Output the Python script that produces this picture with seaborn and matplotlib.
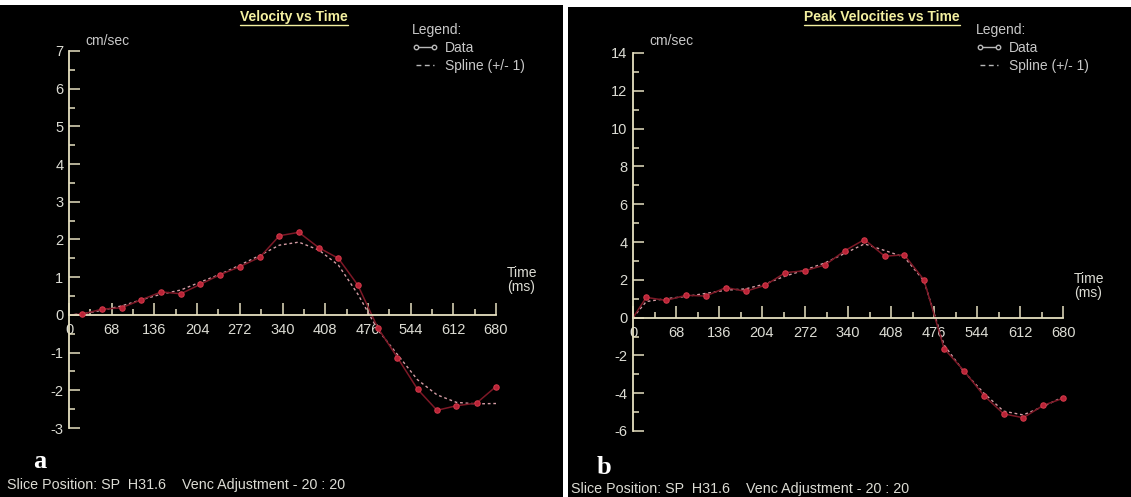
import matplotlib
matplotlib.use("Agg")
import matplotlib.pyplot as plt
import seaborn as sns
from matplotlib.lines import Line2D
from matplotlib.patches import Rectangle
from matplotlib.ticker import MultipleLocator

# sample times (ms), first entry is the origin the trace starts from
TIME_MS = [0, 21, 52, 84, 115, 147, 178, 209, 241, 272, 304, 335, 366,
           398, 429, 460, 492, 523, 555, 586, 617, 649, 680]

# panel a: mean velocity (cm/sec)
VEL_DATA = [0, 0.02, 0.15, 0.19, 0.40, 0.61, 0.56, 0.81, 1.07, 1.28, 1.53, 2.10, 2.19,
            1.78, 1.50, 0.79, -0.35, -1.13, -1.97, -2.53, -2.41, -2.34, -1.90]
VEL_SPLINE = [0, 0.03, 0.12, 0.24, 0.40, 0.55, 0.66, 0.87, 1.08, 1.32, 1.58, 1.85, 1.93,
              1.72, 1.32, 0.55, -0.40, -1.05, -1.72, -2.12, -2.32, -2.36, -2.35]

# panel b: peak velocity (cm/sec)
PEAK_DATA = [0, 1.07, 0.91, 1.18, 1.14, 1.59, 1.39, 1.71, 2.38, 2.48, 2.79, 3.54, 4.13,
             3.25, 3.32, 2.00, -1.64, -2.80, -4.13, -5.09, -5.30, -4.64, -4.27]
PEAK_SPLINE = [0, 0.85, 1.00, 1.12, 1.28, 1.45, 1.52, 1.78, 2.20, 2.52, 2.90, 3.40, 3.90,
               3.55, 3.20, 1.95, -1.45, -2.85, -4.00, -4.95, -5.15, -4.70, -4.20]

X_TICKS = [0, 68, 136, 204, 272, 340, 408, 476, 544, 612, 680]
FOOTER = "Slice Position: SP  H31.6    Venc Adjustment - 20 : 20"

sns.set_theme(style="dark")
plt.rcParams["font.family"] = ["Liberation Sans", "DejaVu Sans"]
plt.rcParams["axes.unicode_minus"] = False

AXC = "#e6e0c0"      # axis cream
TXT = "#dcdcd4"      # tick labels
LEG = "#c8c8c8"
TITLE_C = "#f4f0a0"
LINE_C = "#7c1826"
DOT_C = "#b82236"
SPL_C = "#d49ca4"

W, H = 1131, 497


def fx(px):
    return px / W


def fy(py):
    return 1 - py / H


fig = plt.figure(figsize=(W / 100, H / 100), dpi=100, facecolor="white")
fig.add_artist(Rectangle((0, 0), fx(563), fy(5), transform=fig.transFigure,
                         facecolor="black", edgecolor="none", zorder=0))
fig.add_artist(Rectangle((fx(568), 0), 1 - fx(568), fy(7), transform=fig.transFigure,
                         facecolor="black", edgecolor="none", zorder=0))


def draw_panel(x0, x1, ytop, ybot, ylim, ystep, data, spline, title, title_x,
               off, letter):
    ax = fig.add_axes([fx(x0), fy(ybot), fx(x1) - fx(x0), fy(ytop) - fy(ybot)])
    ax.set_facecolor("none")
    ax.grid(False)

    sns.lineplot(x=TIME_MS, y=spline, ax=ax, color=SPL_C, lw=1,
                 linestyle=(0, (2, 2)), sort=False, estimator=None)
    sns.lineplot(x=TIME_MS, y=data, ax=ax, color=LINE_C, lw=1.1,
                 sort=False, estimator=None)
    sns.scatterplot(x=TIME_MS[1:], y=data[1:], ax=ax, color=DOT_C, s=15,
                    edgecolor="#d03848", linewidth=0.8, zorder=5)
    for a in ax.lines + ax.collections:
        a.set_clip_on(False)

    ax.set_xlim(0, 680)
    ax.set_ylim(*ylim)
    ax.set_xlabel("")
    ax.set_ylabel("")
    ax.spines["top"].set_visible(False)
    ax.spines["right"].set_visible(False)
    ax.spines["bottom"].set_position(("data", 0))
    for s in ("left", "bottom"):
        ax.spines[s].set_color(AXC)
        ax.spines[s].set_linewidth(1.3)
        ax.spines[s].set_visible(True)

    ax.set_xticks(X_TICKS)
    ax.xaxis.set_minor_locator(MultipleLocator(34))
    ax.yaxis.set_major_locator(MultipleLocator(ystep))
    ax.yaxis.set_minor_locator(MultipleLocator(ystep / 2))
    ax.tick_params(axis="x", which="major", direction="in", length=8.6, width=1.1,
                   color=AXC, labelcolor=TXT, labelsize=10.5, pad=6, bottom=True)
    ax.tick_params(axis="x", which="minor", direction="in", length=4.3, width=1.1,
                   color=AXC, bottom=True)
    ax.tick_params(axis="y", which="major", direction="in", length=8, width=1.1,
                   color=AXC, labelcolor=TXT, labelsize=10.5, pad=4, left=True)
    ax.tick_params(axis="y", which="minor", direction="in", length=4, width=1.1,
                   color=AXC, left=True)

    t = fig.text(fx(title_x), fy(17), title, ha="center", va="center",
                 fontsize=10, fontweight="bold", color=TITLE_C)
    fig.text(fx(x0 + 16), fy(41), "cm/sec", ha="left", va="center",
             fontsize=10, color=LEG)
    fig.text(fx(x1 + 11), fy(273 + off), "Time", ha="left", va="center",
             fontsize=10, color=TXT)
    fig.text(fx(x1 + 11), fy(287 + off), "(ms)", ha="left", va="center",
             fontsize=10, color=TXT)

    handles = [Line2D([], [], color="#b8b8b8", lw=1, marker="o", markersize=3.2,
                      markerfacecolor="black", markeredgecolor="#b8b8b8"),
               Line2D([], [], color="#b8b8b8", lw=1, linestyle=(0, (3.5, 2.5)))]
    leg = ax.legend(handles, ["Data", "Spline (+/- 1)"], title="Legend:",
                    alignment="left", loc="upper left",
                    bbox_to_anchor=(fx(x0 + 343), fy(23)),
                    bbox_transform=fig.transFigure, frameon=False, fontsize=10,
                    title_fontsize=10, labelcolor=LEG, numpoints=2,
                    handlelength=1.9, handletextpad=0.5, labelspacing=0.3,
                    borderpad=0, borderaxespad=0)
    leg.get_title().set_color(LEG)

    fig.text(fx(x0 - 29), fy(461 + off), letter, ha="center", va="center",
             fontsize=19, fontweight="bold", color="white",
             family=["Liberation Serif", "DejaVu Serif"])
    return t


t1 = draw_panel(69, 496, 51, 428, (-3, 7), 1, VEL_DATA, VEL_SPLINE,
                "Velocity vs Time", 294, 0, "a")
t2 = draw_panel(633, 1063, 53, 431, (-6, 14), 2, PEAK_DATA, PEAK_SPLINE,
                "Peak Velocities vs Time", 882, 6, "b")

fig.text(fx(7), fy(485), FOOTER, ha="left", va="center", fontsize=10.3, color=TXT)
fig.text(fx(571), fy(489), FOOTER, ha="left", va="center", fontsize=10.3, color=TXT)

# underline the titles
fig.canvas.draw()
renderer = fig.canvas.get_renderer()
for t in (t1, t2):
    bb = t.get_window_extent(renderer)
    fig.add_artist(Line2D([bb.x0 / W, bb.x1 / W], [(bb.y0 - 1) / H, (bb.y0 - 1) / H],
                          transform=fig.transFigure, color=TITLE_C, lw=1))

fig.savefig("out.png", dpi=100, facecolor="white")
